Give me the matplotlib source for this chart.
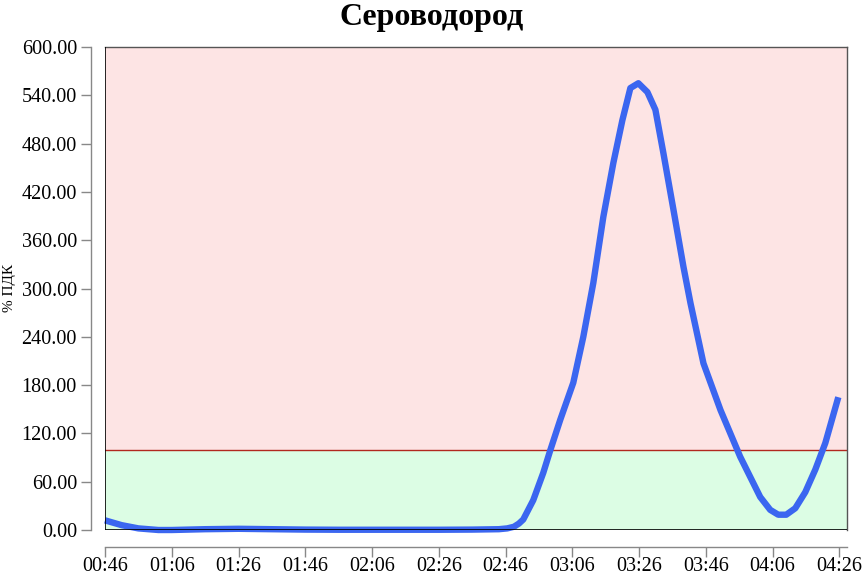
import matplotlib
matplotlib.use("Agg")
import matplotlib.pyplot as plt
from matplotlib.ticker import FixedLocator, FuncFormatter

plt.rcParams['font.family'] = ['Liberation Serif', 'DejaVu Serif']

title = "Сероводород"
ylabel = "% ПДК"

# minutes since 00:46
minutes = [0, 5, 10, 16, 20, 30, 40, 50, 60, 70, 80, 90, 100, 110, 118, 120.5,
           122.5, 124.0, 125.3, 128.3, 131.3, 133.4, 136.4, 140.3, 143.3, 146.3,
           149.3, 152.3, 155.0, 157.4, 159.8, 162.5, 164.9, 167.3, 170.3, 173.3,
           175.4, 179.3, 184.4, 190.3, 196.3, 199.3, 201.7, 204.1, 206.8, 209.8,
           212.8, 215.8, 219.7]
values = [12, 6, 2, 0, 0, 1, 1.5, 1, 0.5, 0.3, 0.3, 0.3, 0.3, 0.5, 1, 2,
          4, 8, 13, 37, 71, 99, 137, 183, 240, 307,
          389, 456, 509, 549, 555, 544, 522, 468, 398, 327,
          282, 207, 149, 91, 41, 25, 19, 19, 27, 47,
          75, 108, 165]

x_ticks = [0, 20, 40, 60, 80, 100, 120, 140, 160, 180, 200, 220]
x_labels = ["00:46", "01:06", "01:26", "01:46", "02:06", "02:26", "02:46",
            "03:06", "03:26", "03:46", "04:06", "04:26"]
y_ticks = [0, 60, 120, 180, 240, 300, 360, 420, 480, 540, 600]
limit = 100
y_max = 600
x_max = 222.3

fig = plt.figure(figsize=(8.64, 5.76), dpi=100)
W, H = 864, 576
ax = fig.add_axes([105 / W, (H - 530) / H, (847 - 105) / W, (530 - 47) / H])

ax.set_xlim(0, x_max)
ax.set_ylim(0, y_max)

ax.axhspan(0, limit, color=(220/255, 253/255, 228/255), zorder=0, lw=0)
ax.axhspan(limit, y_max, color=(253/255, 228/255, 228/255), zorder=0, lw=0)
ax.axhline(limit, color=(178/255, 40/255, 30/255), lw=1.0, zorder=1)

ax.plot(minutes, values, color=(59/255, 102/255, 240/255), lw=4.6,
        solid_joinstyle='round', solid_capstyle='butt', zorder=3, clip_on=False)

# frame of plot area
ax.axvline(0, color='black', lw=1.2, zorder=4)
ax.axhline(0, color='black', lw=1.2, zorder=4)
for s in ['top', 'right']:
    ax.spines[s].set_color('#555555')
    ax.spines[s].set_linewidth(1.0)
for s, off in [('left', 10), ('bottom', 12)]:
    ax.spines[s].set_position(('outward', off))
    ax.spines[s].set_color('#888888')
    ax.spines[s].set_linewidth(1.0)

ax.xaxis.set_major_locator(FixedLocator(x_ticks))
ax.set_xticklabels(x_labels)
ax.yaxis.set_major_locator(FixedLocator(y_ticks))
ax.yaxis.set_major_formatter(FuncFormatter(lambda v, p: f"{v:.2f}"))
ax.tick_params(axis='both', length=7.2, width=1.0, color='#888888',
               labelsize=14.5, labelcolor='black')
ax.tick_params(axis='y', pad=3)
ax.tick_params(axis='x', pad=0.5)

fig.text(10 / W, 1 - 288 / H, ylabel, rotation=90, ha='center', va='center',
         fontsize=11)
fig.text(432 / W, 1 - 17 / H, title, ha='center', va='center',
         fontsize=23, fontweight='bold')

fig.savefig("out.png", dpi=100)
